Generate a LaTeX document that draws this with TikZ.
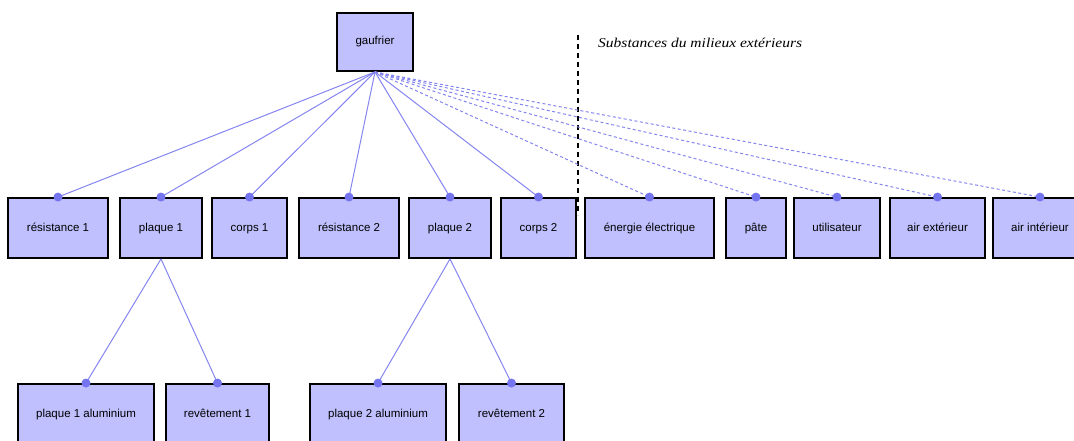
\documentclass[tikz,border=0pt]{standalone}
\usepackage{fontspec}
\setmainfont{Liberation Sans}
\newfontfamily\serifit{Liberation Serif}
\definecolor{boxfill}{HTML}{C0C0FF}
\definecolor{linkcol}{HTML}{8585F0}
\definecolor{dotcol}{HTML}{7575F0}
\begin{document}
\begin{tikzpicture}[x=1pt,y=-1pt,
  box/.style={draw=black, line width=1.9pt, fill=boxfill, minimum height=60pt, inner sep=0pt,
              text height=8.5pt, text depth=2.5pt,
              font=\fontsize{11.5}{13}\selectfont},
  link/.style={draw=linkcol, line width=1pt},
  extlink/.style={link, dash pattern=on 3pt off 2.5pt},
  dot/.style={circle, fill=dotcol, minimum size=9pt, inner sep=0pt},
  sep/.style={draw=black, line width=1.6pt, dash pattern=on 5pt off 4pt}]
\useasboundingbox (0,0) rectangle (1074,441);
% top
\node[box, minimum width=76pt, minimum height=58pt] (gauf) at (375,42) {gaufrier};
% row 1
\node[box, minimum width=100pt] (res1) at (58,228) {résistance 1};
\node[box, minimum width=82pt] (pl1) at (161,228) {plaque 1};
\node[box, minimum width=75pt] (co1) at (249.5,228) {corps 1};
\node[box, minimum width=100pt] (res2) at (349,228) {résistance 2};
\node[box, minimum width=82pt] (pl2) at (450,228) {plaque 2};
\node[box, minimum width=75pt] (co2) at (538.5,228) {corps 2};
\node[box, minimum width=129pt] (ener) at (649.5,228) {énergie électrique};
\node[box, minimum width=60pt] (pate) at (756,228) {pâte};
\node[box, minimum width=86pt] (util) at (837,228) {utilisateur};
\node[box, minimum width=95pt] (aext) at (937.5,228) {air extérieur};
\node[box, minimum width=94pt] (aint) at (1040,228) {air intérieur};
% row 2
\node[box, minimum width=136pt] (p1alu) at (86,414) {plaque 1 aluminium};
\node[box, minimum width=103pt] (rev1) at (217.5,414) {revêtement 1};
\node[box, minimum width=136pt] (p2alu) at (378,414) {plaque 2 aluminium};
\node[box, minimum width=105pt] (rev2) at (511.5,414) {revêtement 2};
% separator and caption
\coordinate (septop) at (578,35);
\coordinate (sepbot) at (578,215);
\draw[sep] (septop) -- (sepbot);
\node[anchor=base west, inner sep=0pt, font=\serifit\itshape\fontsize{13.5}{15}\selectfont] (caption) at (598,48)
  {\scalebox{1.15}[1]{Substances du milieux extérieurs}};
% links
\foreach \n in {res1,pl1,co1,res2,pl2,co2}
  \draw[link] (gauf.south) -- (\n.north);
\foreach \n in {ener,pate,util,aext,aint}
  \draw[extlink] (gauf.south) -- (\n.north);
\draw[link] (pl1.south) -- (p1alu.north);
\draw[link] (pl1.south) -- (rev1.north);
\draw[link] (pl2.south) -- (p2alu.north);
\draw[link] (pl2.south) -- (rev2.north);
% dots
\foreach \n in {res1,pl1,co1,res2,pl2,co2,ener,pate,util,aext,aint,p1alu,rev1,p2alu,rev2}
  \node[dot] (dot-\n) at (\n.north) {};
\end{tikzpicture}
\end{document}
